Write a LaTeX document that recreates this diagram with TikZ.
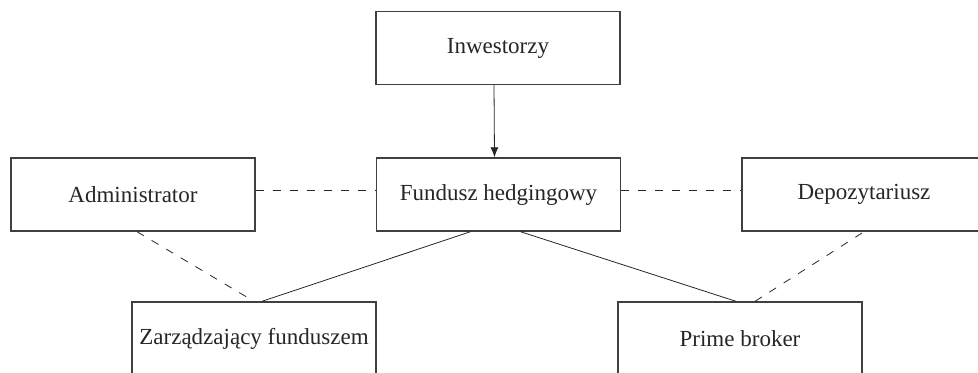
\documentclass[tikz,border=0pt]{standalone}
\usepackage{fontspec}
\setmainfont{Liberation Serif}
\usepackage{tikz}
\usetikzlibrary{arrows.meta,positioning,calc}
\tikzset{
    auto, semithick,
    box/.style = {rectangle, draw=black!75, line width=0.7pt, minimum width=122pt, minimum height=36.5pt,
                  text=black!85, font=\fontsize{11.5}{13}\selectfont},
    dashedlink/.style = {draw=black!85, dash pattern=on 4pt off 4.5pt},
    link/.style = {draw=black!85},
    flow/.style = {draw=black!85, -{Latex[length=5pt,width=4pt]}}
}
\begin{document}
\begin{tikzpicture}[x=0.5pt,y=-0.5pt]
 \useasboundingbox (0,0) rectangle (978,372);
 \clip (0,0) rectangle (978,372);
 \node[box] (inw) at (498,48) {Inwestorzy};
    \node[box] (fund) at (498.5,194.5) {Fundusz hedgingowy};
    \node[box] (adm) at (133,194.5) {Administrator};
    \node[box] (dep) at (864,194.5) {Depozytariusz};
    \node[box] (zarz) at (254,338.5) {Zarządzający funduszem};
    \node[box] (prime) at (740,338.5) {Prime broker};

    \draw[flow] ([xshift=-2pt]inw.south) -- ([xshift=-2pt]fund.north);
    \path[dashedlink] ([yshift=2pt]adm.east) edge ([yshift=2pt]fund.west);
     \path[dashedlink] ([yshift=2pt]fund.east) edge ([yshift=2pt]dep.west);
     \path[dashedlink] ([xshift=2pt]adm.south) edge (zarz.north);
    \path[dashedlink] ([xshift=7.5pt]prime.north) edge (dep.south);
        \path[link] ([xshift=-14pt]fund.south) edge ([xshift=4pt]zarz.north);
       \path[link] ([xshift=11pt]fund.south) edge ([xshift=-2pt]prime.north);
\end{tikzpicture}
\end{document}
